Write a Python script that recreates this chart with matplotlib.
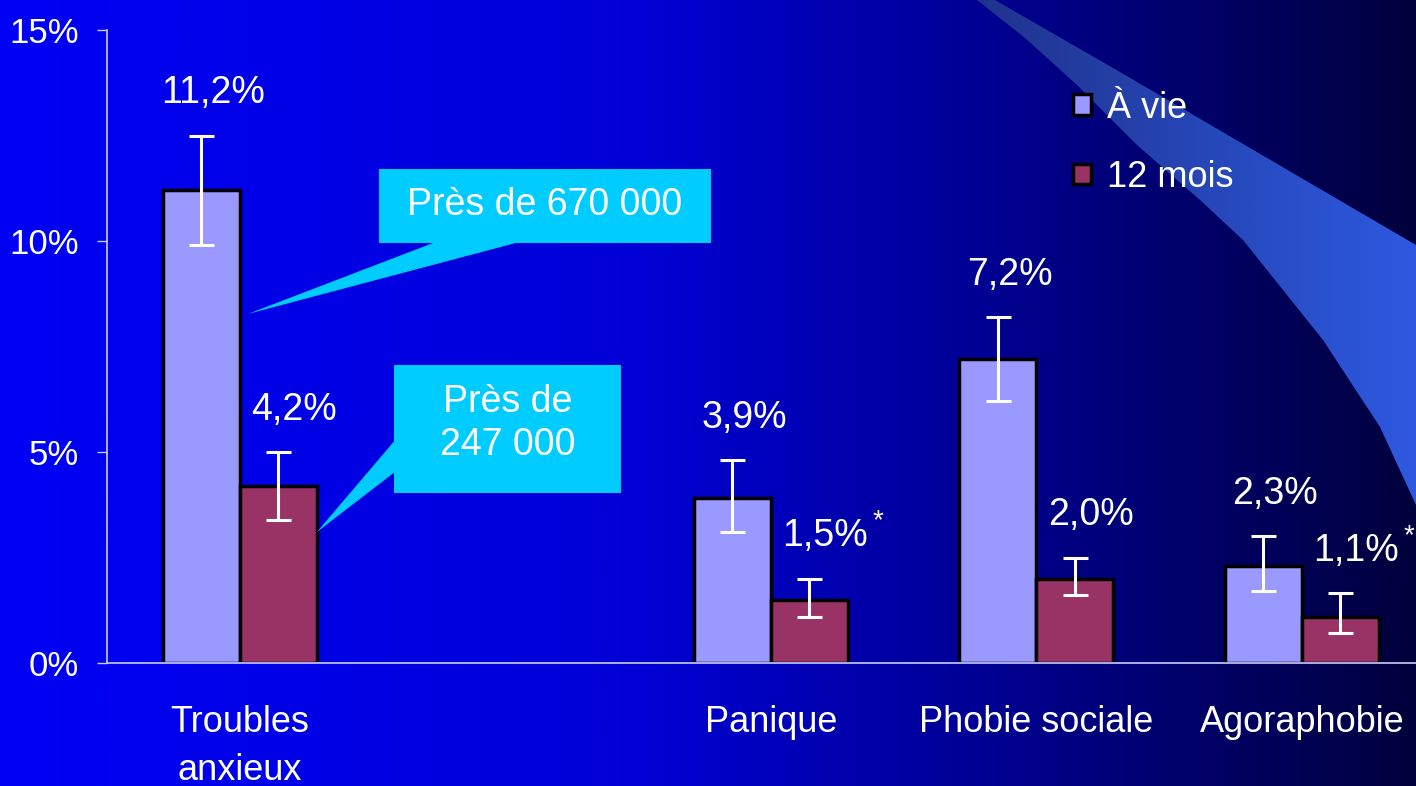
import numpy as np
import matplotlib.pyplot as plt
from matplotlib.patches import Patch, Polygon, Rectangle
from matplotlib.colors import LinearSegmentedColormap

plt.rcParams['font.family'] = ['Liberation Sans', 'DejaVu Sans']

# data
categories = ['Troubles\nanxieux', 'Panique', 'Phobie sociale', 'Agoraphobie']
cat_pos = [0, 2, 3, 4]
vie = [11.2, 3.9, 7.2, 2.3]
vie_lo = [9.9, 3.1, 6.2, 1.7]
vie_hi = [12.5, 4.8, 8.2, 3.0]
mois = [4.2, 1.5, 2.0, 1.1]
mois_lo = [3.4, 1.1, 1.6, 0.7]
mois_hi = [5.0, 2.0, 2.5, 1.65]
vie_labels = ['11,2%', '3,9%', '7,2%', '2,3%']
mois_labels = ['4,2%', '1,5%', '2,0%', '1,1%']
mois_star = [False, True, False, True]
yticks = [0, 5, 10, 15]
ytick_labels = ['0%', '5%', '10%', '15%']

C_VIE = '#9999ff'
C_MOIS = '#993366'
C_CALLOUT = '#00ccff'

W, H = 1416, 786
fig = plt.figure(figsize=(W / 100, H / 100), dpi=100)

# background gradient + swoosh (pixel coords)
bg = fig.add_axes([0, 0, 1, 1], zorder=-1)
bg.axis('off')
bg_cmap = LinearSegmentedColormap.from_list('bg', [
    (0.0, (0, 0, 0.96)), (0.45, (0, 0, 0.84)), (0.72, (0, 0, 0.55)), (1.0, (0, 0, 0.24))])
grad = np.linspace(0, 1, 512)[None, :]
bg.imshow(grad, cmap=bg_cmap, extent=[0, W, H, 0], aspect='auto')

band = [(977, 0), (995, 0), (1120, 72), (1250, 148), (1416, 245),
        (1416, 505), (1380, 427), (1323, 340), (1243, 240), (1200, 200), (1137, 145),
        (1077, 85), (1025, 38)]
band_poly = Polygon(band, closed=True, facecolor='none', edgecolor='none')
bg.add_patch(band_poly)
band_cmap = LinearSegmentedColormap.from_list('band', [(0.12, 0.2, 0.55), (0.18, 0.35, 0.88)])
im = bg.imshow(grad, cmap=band_cmap, extent=[977, W, H, 0], aspect='auto')
im.set_clip_path(band_poly)
bg.set_xlim(0, W)
bg.set_ylim(H, 0)

# main chart
ax = fig.add_axes([107 / W, (H - 663) / H, 1 - 107 / W, (663 - 30) / H])
ax.set_facecolor('none')
bw = 0.29
x = np.array(cat_pos, dtype=float)
ax.bar(x - bw / 2, vie, bw, color=C_VIE, edgecolor='black', linewidth=2.5, zorder=2)
ax.bar(x + bw / 2, mois, bw, color=C_MOIS, edgecolor='black', linewidth=2.5, zorder=2)

vie_err = [np.array(vie) - np.array(vie_lo), np.array(vie_hi) - np.array(vie)]
mois_err = [np.array(mois) - np.array(mois_lo), np.array(mois_hi) - np.array(mois)]
ax.errorbar(x - bw / 2, vie, yerr=vie_err, fmt='none', ecolor='white', elinewidth=2.2,
            capsize=9, capthick=2.2, zorder=3)
ax.errorbar(x + bw / 2, mois, yerr=mois_err, fmt='none', ecolor='white', elinewidth=2.2,
            capsize=9, capthick=2.2, zorder=3)

for xi, top, lab in zip(x - bw / 2, vie_hi, vie_labels):
    ax.text(xi + 0.045, top + 1.0, lab, color='white', fontsize=27, ha='center', va='center')
for xi, top, lab, star in zip(x + bw / 2, mois_hi, mois_labels, mois_star):
    ax.text(xi + 0.06, top + 1.0, lab, color='white', fontsize=27, ha='center', va='center')
    if star:
        ax.text(xi + 0.26, top + 1.35, '*', color='white', fontsize=20, ha='center', va='center')

# callouts
ax.add_patch(Rectangle((0.524, 9.95), 1.25, 1.76, facecolor=C_CALLOUT, edgecolor='none', zorder=4))
ax.add_patch(Polygon([(0.03, 8.27), (0.731, 9.96), (1.044, 9.96)], closed=True,
                     facecolor=C_CALLOUT, edgecolor='none', zorder=4))
ax.text(1.149, 10.86, 'Près de 670 000', color='white', fontsize=27, ha='center', va='center', zorder=5)

ax.add_patch(Rectangle((0.581, 4.03), 0.854, 3.03, facecolor=C_CALLOUT, edgecolor='none', zorder=4))
ax.add_patch(Polygon([(0.29, 3.10), (0.585, 5.28), (0.585, 4.53)], closed=True,
                     facecolor=C_CALLOUT, edgecolor='none', zorder=4))
ax.text(1.01, 5.68, 'Près de\n247 000', color='white', fontsize=27, ha='center', va='center',
        linespacing=1.25, zorder=5)

ax.set_xlim(-0.5, 4.43)
ax.set_ylim(0, 15)
ax.set_yticks(yticks)
ax.set_yticklabels(ytick_labels)
ax.set_xticks(cat_pos)
ax.set_xticklabels(categories, linespacing=1.5)
ax.tick_params(axis='y', colors='#ccccff', labelcolor='white', labelsize=25, length=7,
               width=1, pad=13)
ax.tick_params(axis='x', length=0, labelcolor='white', labelsize=26, pad=30)
for s in ['top', 'right']:
    ax.spines[s].set_visible(False)
for s in ['left', 'bottom']:
    ax.spines[s].set_color('#ccccff')
    ax.spines[s].set_linewidth(1.2)

handles = [Patch(facecolor=C_VIE, edgecolor='black', linewidth=2.5, label='À vie'),
           Patch(facecolor=C_MOIS, edgecolor='black', linewidth=2.5, label='12 mois')]
leg = fig.legend(handles=handles, loc='upper left', bbox_to_anchor=(1040 / W, 1 - 58 / H),
                 frameon=False, fontsize=26, handlelength=0.5, handleheight=0.5,
                 handletextpad=0.45, labelspacing=0.95)
for t in leg.get_texts():
    t.set_color('white')

fig.savefig('out.png', dpi=100)
